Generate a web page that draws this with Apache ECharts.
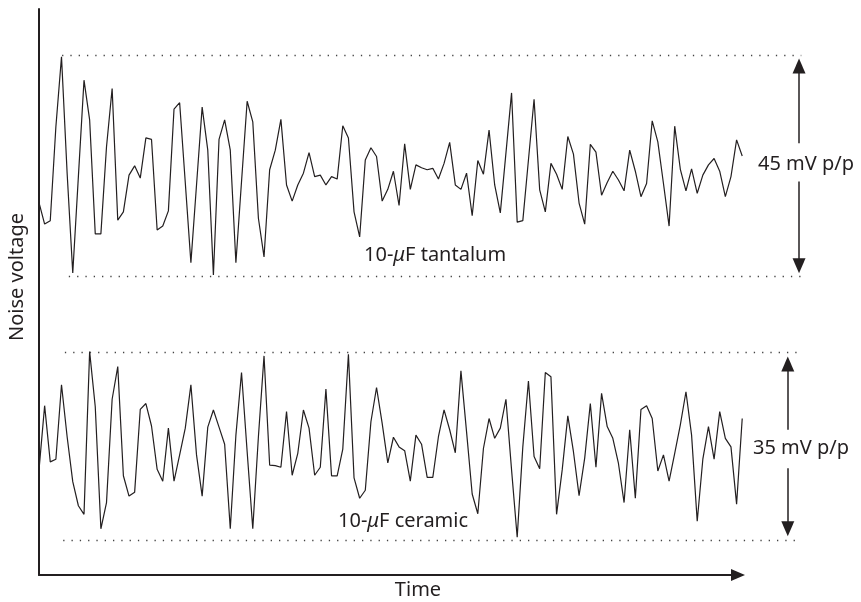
<!DOCTYPE html>
<html>
<head>
<meta charset="utf-8">
<script src="https://cdn.jsdelivr.net/npm/echarts@6/dist/echarts.min.js"></script>
<style>
html,body{margin:0;padding:0;background:#fff;}
#chart{width:861px;height:602px;}
</style>
</head>
<body>
<div id="chart"></div>
<script>
// Noise traces (mV, relative to each trace's centre), one sample per time step
const tantalumMv = [-7.5,-11.9,-11.2,8.0,22.3,-1.5,-21.9,-2.2,17.5,9.4,-13.9,-13.9,3.9,15.8,-11.1,-9.4,-1.9,0.0,-2.5,5.7,
  5.4,-13.1,-12.3,-9.2,11.6,12.9,-3.4,-19.8,-3.9,12.0,3.2,-22.3,5.4,9.4,3.2,-19.8,-3.2,13.2,9.0,-10.7,
  -18.6,-0.8,3.2,9.5,-3.9,-7.2,-3.9,-1.5,2.7,-2.2,-1.9,-3.9,-2.2,-2.7,8.2,5.7,-9.4,-14.5,1.2,3.7,
  1.9,-7.2,-4.8,-1.1,-8.1,4.5,-4.8,0.2,-0.4,-0.8,-0.5,-2.7,0.5,4.8,-3.9,-4.8,-1.5,-10.2,1.1,-1.7,
  7.3,-3.9,-9.6,2.6,14.9,-11.5,-11.2,1.2,13.6,-4.9,-9.4,0.5,-1.7,-4.8,6.0,2.4,-7.6,-11.9,4.4,2.8,
  -6.0,-3.4,-1.1,-2.9,-5.1,3.2,-1.1,-6.3,-3.6,9.2,4.9,-3.6,-12.3,8.1,-0.7,-5.1,-0.6,-5.6,-1.9,0.2,
  1.5,-1.1,-6.3,-2.2,5.3,2.0];
const ceramicMv = [-4.4,7.6,-2.9,-2.4,11.5,1.8,-6.6,-11.1,-12.7,17.7,7.4,-15.4,-10.5,8.8,14.9,-5.5,-9.3,-8.6,6.9,8.0,
  3.8,-4.3,-6.5,3.4,-6.5,-1.6,3.4,11.5,-1.6,-9.3,3.6,6.8,3.6,0.4,-15.4,2.1,13.8,-1.0,-15.4,1.8,
  16.9,-3.5,-3.6,-3.9,6.5,-5.4,-1.3,6.8,3.4,-5.4,-3.9,10.7,-5.5,-5.5,-0.5,17.2,-5.9,-9.7,-8.2,4.6,
  11.0,4.3,-3.1,1.7,-0.1,-0.8,-6.5,2.1,0.4,-5.8,-5.8,1.8,6.8,3.1,-1.2,14.1,2.7,-8.9,-12.6,-0.4,
  5.2,1.5,3.4,8.8,-4.4,-17.0,-0.1,12.2,-1.9,-4.2,13.8,13.0,-12.7,-4.4,5.7,-1.0,-9.2,-2.2,8.0,-3.9,
  9.9,3.7,1.5,-3.2,-10.5,3.1,-9.7,6.9,7.6,5.2,-4.6,-1.6,-6.5,-1.3,4.0,10.2,2.1,-14.0,-2.4,3.7,
  -2.4,6.5,1.5,-0.1,-10.8,5.2];
// Peak-to-peak ranges (mV) and their labels
const tantalumPP = 45;
const ceramicPP = 35;
const tantalumLabel = '10-{i|μ}F tantalum';
const ceramicLabel = '10-{i|μ}F ceramic';
const ppLabels = ['45 mV p/p', '35 mV p/p'];
const axisNames = ['Time', 'Noise voltage'];

const FONT = '"Noto Sans", "DejaVu Sans", sans-serif';
const INK = '#231f20';
const chart = echarts.init(document.getElementById('chart'), null, {renderer: 'canvas'});

const toPairs = arr => arr.map((v, i) => [i, v]);
const dotted = {color: '#444', width: 1.3, type: [1.3, 7]};
const arrowLine = {color: INK, width: 1.5, type: 'solid'};

function traceMarks(pp, xArrow, dotStart, gapTop, gapBottom, tipInset) {
  const h = pp / 2;
  return {
    silent: true,
    animation: false,
    label: {show: false},
    emphasis: {disabled: true},
    data: [
      [{coord: [dotStart[0], h], symbol: 'none', lineStyle: dotted}, {coord: [135.5, h], symbol: 'none'}],
      [{coord: [dotStart[1], -h], symbol: 'none', lineStyle: dotted}, {coord: [135.5, -h], symbol: 'none'}],
      [{coord: [xArrow, gapTop], symbol: 'none', lineStyle: arrowLine}, {coord: [xArrow, h - tipInset], symbol: 'triangle', symbolSize: [13, 15]}],
      [{coord: [xArrow, gapBottom], symbol: 'none', lineStyle: arrowLine}, {coord: [xArrow, -h + tipInset], symbol: 'triangle', symbolSize: [13, 15]}]
    ]
  };
}

const traceGridRight = 56.9;
const option = {
  animation: false,
  backgroundColor: '#fff',
  grid: [
    {left: 39, top: 9, right: 123, bottom: 27},
    {left: 39, right: traceGridRight, top: 55.7, bottom: 326},
    {left: 39, right: traceGridRight, top: 352.7, bottom: 62}
  ],
  xAxis: [
    {gridIndex: 0, type: 'value', min: 0, max: 1,
     axisLine: {show: true, onZero: false, symbol: ['none', 'triangle'], symbolSize: [12, 14], lineStyle: {color: INK, width: 2}},
     axisTick: {show: false}, axisLabel: {show: false}, splitLine: {show: false}},
    {gridIndex: 1, type: 'value', min: 0, max: 136, show: false},
    {gridIndex: 2, type: 'value', min: 0, max: 136, show: false}
  ],
  yAxis: [
    {gridIndex: 0, type: 'value', min: 0, max: 1,
     axisLine: {show: true, onZero: false, lineStyle: {color: INK, width: 2}},
     axisTick: {show: false}, axisLabel: {show: false}, splitLine: {show: false}},
    {gridIndex: 1, type: 'value', min: -tantalumPP / 2, max: tantalumPP / 2, show: false},
    {gridIndex: 2, type: 'value', min: -ceramicPP / 2, max: ceramicPP / 2, show: false}
  ],
  series: [
    {
      name: 'tantalum', type: 'line', xAxisIndex: 1, yAxisIndex: 1,
      data: toPairs(tantalumMv), showSymbol: false, clip: false,
      lineStyle: {color: INK, width: 1.2}, emphasis: {disabled: true},
      markLine: traceMarks(tantalumPP, 135.1, [4.1, 5.3], 4.6, -3.2, 2.1)
    },
    {
      name: 'ceramic', type: 'line', xAxisIndex: 2, yAxisIndex: 2,
      data: toPairs(ceramicMv), showSymbol: false, clip: false,
      lineStyle: {color: INK, width: 1.2}, emphasis: {disabled: true},
      markLine: traceMarks(ceramicPP, 133.1, [4.6, 4.3], 3.1, -4.1, 2.1)
    }
  ],
  graphic: [
    {type: 'text', x: 364, y: 255, silent: true,
     style: {text: tantalumLabel, font: '20px ' + FONT, fill: INK, align: 'left', verticalAlign: 'middle',
             rich: {i: {fontStyle: 'italic', fontSize: 20, fontFamily: FONT, fill: INK}}}},
    {type: 'text', x: 338, y: 521, silent: true,
     style: {text: ceramicLabel, font: '20px ' + FONT, fill: INK, align: 'left', verticalAlign: 'middle',
             rich: {i: {fontStyle: 'italic', fontSize: 20, fontFamily: FONT, fill: INK}}}},
    {type: 'text', x: 806, y: 164, silent: true,
     style: {text: ppLabels[0], font: '20px ' + FONT, fill: INK, align: 'center', verticalAlign: 'middle'}},
    {type: 'text', x: 801, y: 448, silent: true,
     style: {text: ppLabels[1], font: '20px ' + FONT, fill: INK, align: 'center', verticalAlign: 'middle'}},
    {type: 'text', x: 418, y: 590, silent: true,
     style: {text: axisNames[0], font: '20px ' + FONT, fill: INK, align: 'center', verticalAlign: 'middle'}},
    {type: 'text', x: 17, y: 277, rotation: Math.PI / 2, silent: true,
     style: {text: axisNames[1], font: '20px ' + FONT, fill: INK, align: 'center', verticalAlign: 'middle'}}
  ]
};
chart.setOption(option);
</script>
</body>
</html>
